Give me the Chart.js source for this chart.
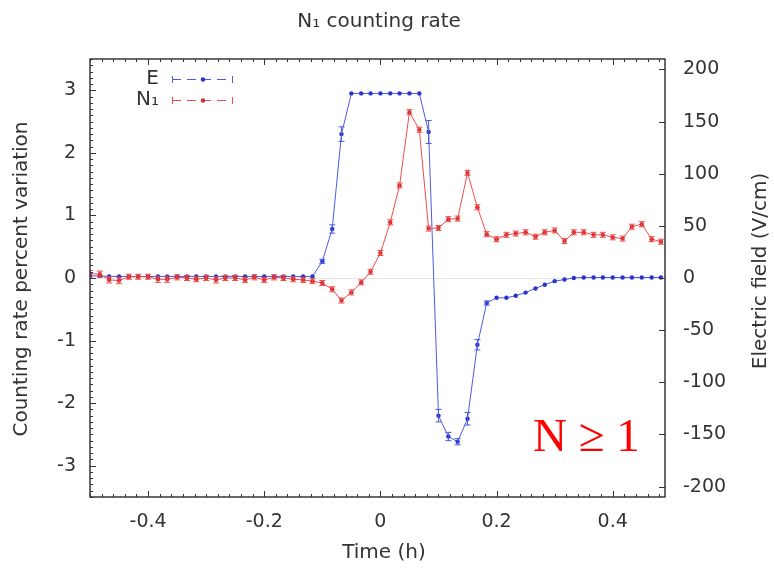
<!DOCTYPE html>
<html><head><meta charset="utf-8">
<script src="https://cdn.jsdelivr.net/npm/chart.js@4.4.1/dist/chart.umd.min.js"></script>
<style>html,body{margin:0;padding:0;background:#fff;}#wrap{width:774px;height:568px;}</style>
</head><body><div id="wrap"><canvas id="c" width="774" height="568"></canvas></div>
<script>
// ---- data ----
const timeH = [-0.500,-0.483,-0.467,-0.450,-0.433,-0.417,-0.400,-0.383,-0.367,-0.350,
  -0.333,-0.317,-0.300,-0.283,-0.267,-0.250,-0.233,-0.217,-0.200,-0.183,
  -0.167,-0.150,-0.133,-0.117,-0.100,-0.083,-0.067,-0.050,-0.033,-0.017,
  0.000,0.017,0.033,0.050,0.067,0.083,0.100,0.117,0.133,0.150,
  0.167,0.183,0.200,0.217,0.233,0.250,0.267,0.283,0.300,0.317,
  0.333,0.350,0.367,0.383,0.400,0.417,0.433,0.450,0.467,0.483];
const fieldE = [2,2,1.5,1.5,1.5,1.5,1.5,1.5,1.5,1.5,
  1.5,1.5,1.5,1.5,1.5,1.5,1.5,1.5,1.5,1.5,
  1.5,1.5,1.5,1.5,16,47,138,177,177,177,
  177,177,177,177,177,140,-132,-152,-157,-135,
  -64,-24,-19,-19,-17,-14,-10,-6.5,-3,-1.5,
  0,0.5,0.5,0.5,0.5,0.5,0.5,0.5,0.5,0.5];
const errE = [0,0,0,0,0,0,0,0,0,0,
  0,0,0,0,0,0,0,0,0,0,
  0,0,0,0,2,4,7,0,0,0,
  0,0,0,0,0,11,6,4,3,6,
  5,2,0,0,0,0,0,0,0,0,
  0,0,0,0,0,0,0,0,0,0];
const rateN1 = [0.07,0.06,-0.03,-0.04,0.02,0.02,0.02,-0.02,-0.02,0.01,
  0.00,-0.02,0.00,-0.03,0.00,0.00,-0.03,0.01,-0.03,0.01,
  0.00,-0.02,-0.03,-0.05,-0.08,-0.18,-0.36,-0.23,-0.07,0.10,
  0.40,0.89,1.48,2.65,2.37,0.79,0.80,0.94,0.95,1.68,
  1.13,0.70,0.62,0.69,0.71,0.73,0.66,0.73,0.76,0.59,
  0.73,0.73,0.69,0.69,0.65,0.63,0.82,0.86,0.62,0.58];
const errN1 = [0.05,0.05,0.05,0.05,0.04,0.04,0.04,0.05,0.05,0.04,
  0.04,0.04,0.04,0.05,0.04,0.04,0.04,0.04,0.04,0.04,
  0.04,0.04,0.04,0.04,0.04,0.04,0.04,0.04,0.04,0.04,
  0.04,0.04,0.04,0.04,0.04,0.04,0.04,0.04,0.04,0.04,
  0.04,0.04,0.04,0.04,0.04,0.04,0.04,0.04,0.04,0.04,
  0.04,0.04,0.04,0.04,0.04,0.04,0.04,0.04,0.04,0.04];
const xTickValues = [-0.4,-0.2,0,0.2,0.4];
const yTickValues = [-3,-2,-1,0,1,2,3];
const y2TickValues = [-200,-150,-100,-50,0,50,100,150,200];
const seriesNames = ['E','N\u2081'];
const chartTitle = 'N\u2081 counting rate';
const xTitle = 'Time (h)';
const yTitle = 'Counting rate percent variation';
const y2Title = 'Electric field (V/cm)';
const noteText = 'N \u2265 1';

const FONT = '"DejaVu Sans", sans-serif';
const TXT = '#333';
const BLUE_L = '#4c5ae6', BLUE_P = '#2a34cc';
const RED_L = '#f04c4c', RED_P = '#d22c2c';
Chart.defaults.font.family = FONT;

function fmt(v){ return Math.abs(v) < 1e-9 ? '0' : String(Math.round(v*1000)/1000); }

const deco = {
  id: 'deco',
  beforeDatasetsDraw(chart){
    const {ctx, chartArea:a, scales} = chart;
    const y0 = Math.round(scales.y.getPixelForValue(0)) + 0.5;
    ctx.save();
    ctx.strokeStyle = '#e4e4e4'; ctx.lineWidth = 1;
    ctx.beginPath(); ctx.moveTo(a.left, y0); ctx.lineTo(a.right, y0); ctx.stroke();
    ctx.restore();
  },
  afterDatasetsDraw(chart){
    const {ctx, chartArea:a, scales} = chart;
    ctx.save();
    // error bars
    ctx.beginPath(); ctx.rect(a.left, a.top, a.right-a.left, a.bottom-a.top); ctx.clip();
    const errs = [errE, errN1], vals = [fieldE, rateN1], cols = [BLUE_L, RED_L];
    chart.data.datasets.forEach((ds, di) => {
      const meta = chart.getDatasetMeta(di);
      const sc = scales[ds.yAxisID];
      ctx.strokeStyle = cols[di]; ctx.lineWidth = 1;
      meta.data.forEach((pt, j) => {
        const e = errs[di][j]; if (!e) return;
        const yt = sc.getPixelForValue(vals[di][j] + e), yb = sc.getPixelForValue(vals[di][j] - e);
        ctx.beginPath();
        ctx.moveTo(pt.x, yt); ctx.lineTo(pt.x, yb);
        ctx.moveTo(pt.x-3, yt); ctx.lineTo(pt.x+3, yt);
        ctx.moveTo(pt.x-3, yb); ctx.lineTo(pt.x+3, yb);
        ctx.stroke();
      });
    });
    ctx.restore();

    ctx.save();
    // frame
    ctx.strokeStyle = '#2a2a2a'; ctx.lineWidth = 1.4;
    ctx.strokeRect(a.left, a.top, a.right-a.left, a.bottom-a.top);
    // ticks (inward, gnuplot style)
    ctx.lineWidth = 1; ctx.strokeStyle = '#333';
    ctx.beginPath();
    for (let i = -25; i <= 25; i++) {
      const v = i*0.02; const px = Math.round(scales.x.getPixelForValue(v)) + 0.5;
      const len = (i % 10 === 0) ? 6 : 3;
      if (px < a.left || px > a.right) continue;
      ctx.moveTo(px, a.bottom); ctx.lineTo(px, a.bottom-len);
      ctx.moveTo(px, a.top); ctx.lineTo(px, a.top+len);
    }
    for (let i = -35; i <= 35; i++) {
      const v = i*0.1; const py = Math.round(scales.y.getPixelForValue(v)) + 0.5;
      const len = (i % 10 === 0) ? 6 : 3;
      ctx.moveTo(a.left, py); ctx.lineTo(a.left+len, py);
    }
    y2TickValues.forEach(v => {
      const py = Math.round(scales.y2.getPixelForValue(v)) + 0.5;
      ctx.moveTo(a.right, py); ctx.lineTo(a.right-6, py);
    });
    ctx.stroke();

    // texts
    ctx.fillStyle = TXT;
    ctx.font = '20px ' + FONT; ctx.textAlign = 'center'; ctx.textBaseline = 'middle';
    ctx.fillText(chartTitle, 379, 22);
    ctx.fillText(xTitle, 384, 553);
    ctx.save(); ctx.translate(22, 279); ctx.rotate(-Math.PI/2); ctx.fillText(yTitle, 0, 0); ctx.restore();
    ctx.save(); ctx.translate(761, 271); ctx.rotate(-Math.PI/2); ctx.fillText(y2Title, 0, 0); ctx.restore();

    // legend
    const rows = [{y:79, l:BLUE_L, p:BLUE_P}, {y:100, l:RED_L, p:RED_P}];
    ctx.textAlign = 'right'; ctx.font = '20px ' + FONT;
    rows.forEach((r, i) => {
      ctx.fillStyle = TXT;
      ctx.fillText(seriesNames[i], 159, r.y);
      ctx.strokeStyle = r.l; ctx.lineWidth = 1;
      ctx.setLineDash([9,6]);
      ctx.beginPath(); ctx.moveTo(172, r.y+0.5); ctx.lineTo(233, r.y+0.5); ctx.stroke();
      ctx.setLineDash([]);
      ctx.beginPath(); ctx.moveTo(172.5, r.y-3); ctx.lineTo(172.5, r.y+4);
      ctx.moveTo(232.5, r.y-3); ctx.lineTo(232.5, r.y+4); ctx.stroke();
      ctx.fillStyle = r.p; ctx.beginPath(); ctx.arc(203, r.y+0.5, 2.2, 0, Math.PI*2); ctx.fill();
    });

    // annotation
    ctx.fillStyle = '#ff0000'; ctx.textAlign = 'left'; ctx.textBaseline = 'alphabetic';
    ctx.font = '47px "Liberation Serif", "Times New Roman", serif';
    ctx.fillText(noteText, 533, 451);
    ctx.restore();
  }
};

const tickFont = {family: FONT, size: 19};
new Chart(document.getElementById('c'), {
  type: 'scatter',
  data: {
    datasets: [
      {label: seriesNames[0], yAxisID: 'y2', data: timeH.map((t,i)=>({x:t, y:fieldE[i]})),
       showLine: true, borderColor: BLUE_L, borderWidth: 1, pointRadius: 2.2, pointBorderWidth: 0,
       pointBackgroundColor: BLUE_P, pointBorderColor: BLUE_P, order: 1},
      {label: seriesNames[1], yAxisID: 'y', data: timeH.map((t,i)=>({x:t, y:rateN1[i]})),
       showLine: true, borderColor: RED_L, borderWidth: 1, pointRadius: 2.2, pointBorderWidth: 0,
       pointBackgroundColor: RED_P, pointBorderColor: RED_P, order: 0}
    ]
  },
  options: {
    responsive: false, animation: false, devicePixelRatio: 1,
    layout: {padding: {top: 59, left: 0, right: 0, bottom: 0}},
    plugins: {legend: {display: false}, tooltip: {enabled: false}, title: {display: false}},
    scales: {
      x: {type: 'linear', position: 'bottom', min: -0.5, max: 0.49,
          grid: {display: false, drawTicks: false}, border: {display: false},
          ticks: {font: tickFont, color: TXT, padding: 14, maxRotation: 0, autoSkip: false, callback: v => fmt(v)},
          afterBuildTicks: s => { s.ticks = xTickValues.map(v => ({value: v})); },
          afterFit: s => { s.height = 71; }},
      y: {type: 'linear', position: 'left', min: -3.5, max: 3.5,
          grid: {display: false, drawTicks: false}, border: {display: false},
          ticks: {font: tickFont, color: TXT, padding: 14, autoSkip: false, callback: v => fmt(v)},
          afterBuildTicks: s => { s.ticks = yTickValues.map(v => ({value: v})); },
          afterFit: s => { s.width = 90; }},
      y2: {type: 'linear', position: 'right', min: -210, max: 210,
          grid: {display: false, drawTicks: false}, border: {display: false},
          ticks: {font: tickFont, color: TXT, padding: 18, autoSkip: false, callback: v => fmt(v)},
          afterBuildTicks: s => { s.ticks = y2TickValues.map(v => ({value: v})); },
          afterFit: s => { s.width = 109; }}
    }
  },
  plugins: [deco]
});
</script></body></html>
